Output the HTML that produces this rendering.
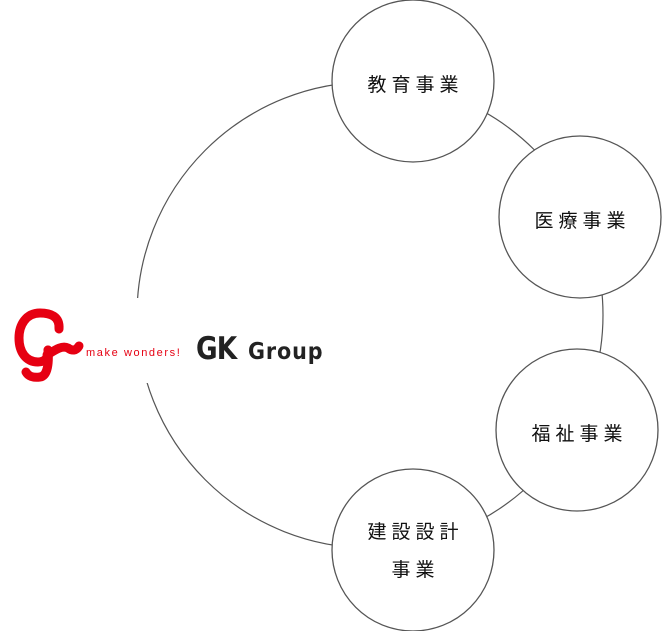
<!DOCTYPE html>
<html><head><meta charset="utf-8"><style>
html,body{margin:0;padding:0;background:#fff;}
body{width:662px;height:631px;position:relative;overflow:hidden;font-family:"Liberation Sans","Noto Sans CJK JP",sans-serif;}
.t{position:absolute;font-size:19px;letter-spacing:5px;color:#111;text-align:center;white-space:nowrap;}
</style></head><body>
<svg width="662" height="631" style="position:absolute;left:0;top:0">
<circle cx="370" cy="315" r="233" fill="none" stroke="#555" stroke-width="1.2"/>
<rect x="80" y="298" width="260" height="85" fill="#fff"/>
<circle cx="413" cy="81" r="81" fill="#fff" stroke="#555" stroke-width="1.3"/>
<circle cx="580" cy="217" r="81" fill="#fff" stroke="#555" stroke-width="1.3"/>
<circle cx="577" cy="430" r="81" fill="#fff" stroke="#555" stroke-width="1.3"/>
<circle cx="413" cy="550" r="81" fill="#fff" stroke="#555" stroke-width="1.3"/>
<g fill="none" stroke="#e60012" stroke-width="9" stroke-linecap="round">
<path d="M59 329 C60 316 50 313 40 313 C26 313 19 325 19 338 C19 352 26 362 38 362 C46 362 49 356 48 350"/>
<path d="M48 350 C49 362 48 376 40 377 C33 378 28 376 26 372"/>
<path d="M47 355 C55 350 62 345 68 348 C72 351 76 351 79 346"/>
</g>
<text x="86" y="356" font-family="Liberation Sans, sans-serif" font-size="11" fill="#e60012" letter-spacing="1.6">make wonders!</text>
<text x="0" y="0" transform="translate(196,359) scale(0.85,1)" font-family="DejaVu Sans, sans-serif" font-weight="bold" font-size="31" fill="#222" letter-spacing="-1">GK</text>
<text x="0" y="0" transform="translate(248,359) scale(0.9,1)" font-family="DejaVu Sans, sans-serif" font-weight="bold" font-size="23" fill="#222" letter-spacing="1">Group</text>
</svg>
<div class="t" style="left:332px;top:70px;width:167px;">教育事業</div>
<div class="t" style="left:499px;top:206px;width:167px;">医療事業</div>
<div class="t" style="left:496px;top:419px;width:167px;">福祉事業</div>
<div class="t" style="left:332px;top:514px;width:167px;line-height:38px;">建設設計<br>事業</div>
</body></html>
